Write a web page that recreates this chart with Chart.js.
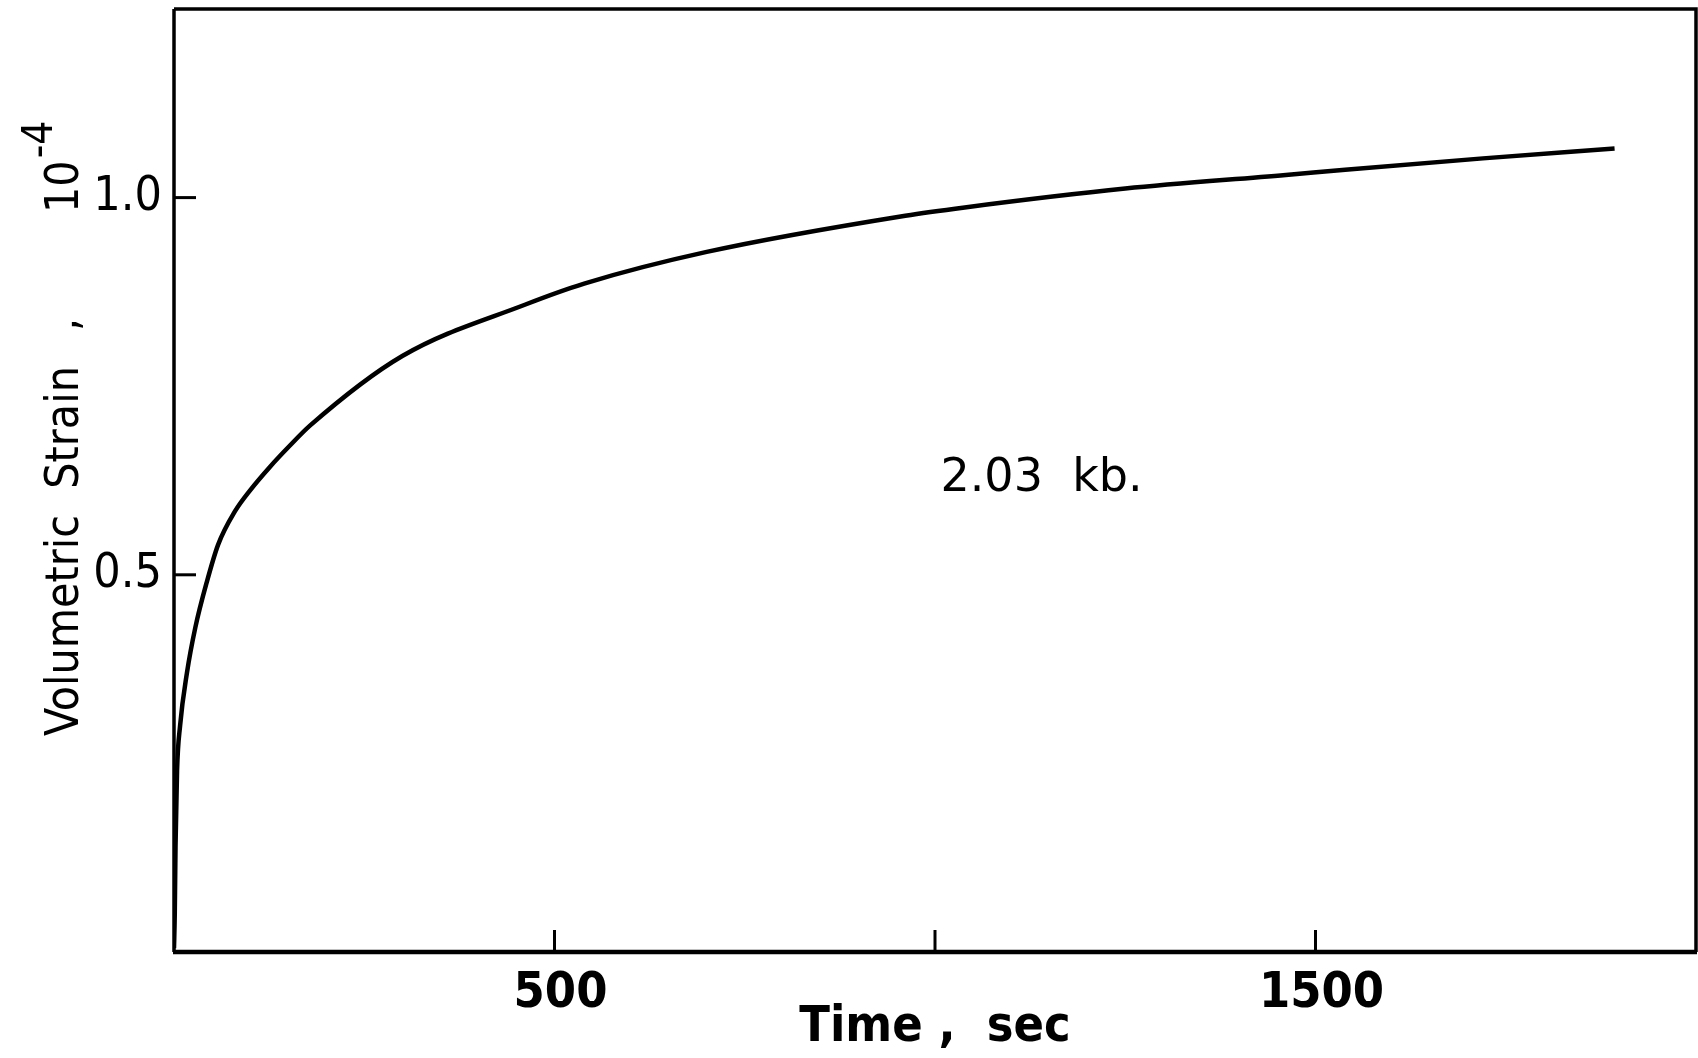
<!DOCTYPE html>
<html>
<head>
<meta charset="utf-8">
<script src="https://cdn.jsdelivr.net/npm/chart.js@4/dist/chart.umd.min.js"></script>
<style>
  html, body { margin: 0; padding: 0; background: #fff; }
  #wrap { width: 1698px; height: 1058px; }
</style>
</head>
<body>
<div id="wrap"><canvas id="c" width="1698" height="1058"></canvas></div>
<script>
// Creep of volumetric strain at constant pressure
const timeSec = [0, 1, 2, 4, 8, 17, 28, 43, 58, 80, 100, 126, 153, 179, 300, 461, 539, 700, 961, 1039, 1250, 1461, 1539, 1720, 1893];
const strain  = [0.005, 0.05, 0.14, 0.24, 0.30, 0.37, 0.43, 0.49, 0.54, 0.584, 0.612, 0.643, 0.672, 0.698, 0.79, 0.858, 0.886, 0.928, 0.976, 0.987, 1.012, 1.030, 1.037, 1.052, 1.065];

const xTickMarks = [500, 1000, 1500];
const xTickLabels = [500, 1500];
const yTickMarks = [0.5, 1.0];
const yTickLabels = ['0.5', '1.0'];

const xTitle = 'Time ,  sec';
const yTitleWords = 'Volumetric  Strain';
const yTitleComma = ',';
const yTitleBase = '10';
const yTitleExp = '-4';
const pressureLabel = '2.03  kb.';

const points = timeSec.map((t, i) => ({ x: t, y: strain[i] }));

// frame, inward tick marks, rotated y title with exponent, pressure note
const decor = {
  id: 'decor',
  afterDraw(chart) {
    const { ctx, chartArea: a, scales } = chart;
    const xs = scales.x, ys = scales.y;
    ctx.save();
    ctx.strokeStyle = '#000';
    ctx.lineCap = 'butt';

    // box around the plot
    ctx.lineWidth = 3.5;
    ctx.beginPath();
    ctx.moveTo(a.left, a.top);
    ctx.lineTo(a.right, a.top);
    ctx.lineTo(a.right, a.bottom);
    ctx.stroke();
    ctx.beginPath();
    ctx.moveTo(a.left, a.top);
    ctx.lineTo(a.left, a.bottom);
    ctx.stroke();
    ctx.lineWidth = 4.5;
    ctx.beginPath();
    ctx.moveTo(a.left - 1, a.bottom);
    ctx.lineTo(a.right + 1, a.bottom);
    ctx.stroke();

    // tick marks pointing into the plot
    ctx.lineWidth = 3;
    xTickMarks.forEach(v => {
      const px = xs.getPixelForValue(v);
      ctx.beginPath();
      ctx.moveTo(px, a.bottom);
      ctx.lineTo(px, a.bottom - 22);
      ctx.stroke();
    });
    yTickMarks.forEach(v => {
      const py = ys.getPixelForValue(v);
      ctx.beginPath();
      ctx.moveTo(a.left, py);
      ctx.lineTo(a.left + 22, py);
      ctx.stroke();
    });

    // y axis title, rotated, with the power of ten raised
    ctx.fillStyle = '#000';
    ctx.translate(78, 736);
    ctx.rotate(-Math.PI / 2);
    ctx.font = '46px "DejaVu Sans Condensed", "DejaVu Sans", sans-serif';
    ctx.textBaseline = 'alphabetic';
    ctx.textAlign = 'left';
    ctx.fillText(yTitleWords, 0, 0);
    ctx.fillText(yTitleComma, 405, 0);
    ctx.fillText(yTitleBase, 523, 0);
    const w = ctx.measureText(yTitleBase).width;
    ctx.font = '42px "DejaVu Sans Condensed", "DejaVu Sans", sans-serif';
    ctx.fillText(yTitleExp, 523 + w + 2, -26);
    ctx.restore();

    // pressure note
    ctx.save();
    ctx.fillStyle = '#000';
    ctx.font = '46px "DejaVu Sans", sans-serif';
    ctx.textAlign = 'center';
    ctx.textBaseline = 'middle';
    ctx.fillText(pressureLabel, xs.getPixelForValue(1140), ys.getPixelForValue(0.627));
    ctx.restore();
  }
};

new Chart(document.getElementById('c'), {
  type: 'line',
  data: {
    datasets: [{
      data: points,
      borderColor: '#000',
      borderWidth: 4.5,
      pointRadius: 0,
      fill: false,
      cubicInterpolationMode: 'monotone'
    }]
  },
  options: {
    responsive: false,
    animation: false,
    devicePixelRatio: 1,
    layout: { padding: { left: 0, right: 2, top: 9, bottom: 0 } },
    plugins: { legend: { display: false }, tooltip: { enabled: false } },
    scales: {
      x: {
        type: 'linear',
        min: 0,
        max: 2000,
        border: { display: false },
        grid: { display: false, drawTicks: false },
        afterBuildTicks(scale) { scale.ticks = xTickMarks.map(v => ({ value: v })); },
        ticks: {
          padding: 12,
          labelOffset: 6,
          color: '#000',
          font: { family: '"DejaVu Sans Condensed", "DejaVu Sans", sans-serif', size: 50, weight: 'bold' },
          callback: v => xTickLabels.includes(v) ? String(v) : ''
        },
        title: {
          display: true,
          text: xTitle,
          color: '#000',
          padding: { top: -8, bottom: 0 },
          font: { family: '"DejaVu Sans Condensed", "DejaVu Sans", sans-serif', size: 50, weight: 'bold' }
        },
        afterFit(scale) {
          scale.height = 106;
          scale.paddingLeft = 0;
          scale.paddingRight = 0;
        }
      },
      y: {
        type: 'linear',
        min: 0,
        max: 1.25,
        border: { display: false },
        grid: { display: false, drawTicks: false },
        afterBuildTicks(scale) { scale.ticks = yTickMarks.map(v => ({ value: v })); },
        ticks: {
          padding: 12,
          color: '#000',
          font: { family: '"DejaVu Sans Condensed", "DejaVu Sans", sans-serif', size: 48 },
          callback: v => {
            const i = yTickMarks.indexOf(v);
            return i >= 0 ? yTickLabels[i] : '';
          }
        },
        afterFit(scale) {
          scale.width = 174;
          scale.paddingTop = 0;
          scale.paddingBottom = 0;
        }
      }
    }
  },
  plugins: [decor]
});
</script>
</body>
</html>
